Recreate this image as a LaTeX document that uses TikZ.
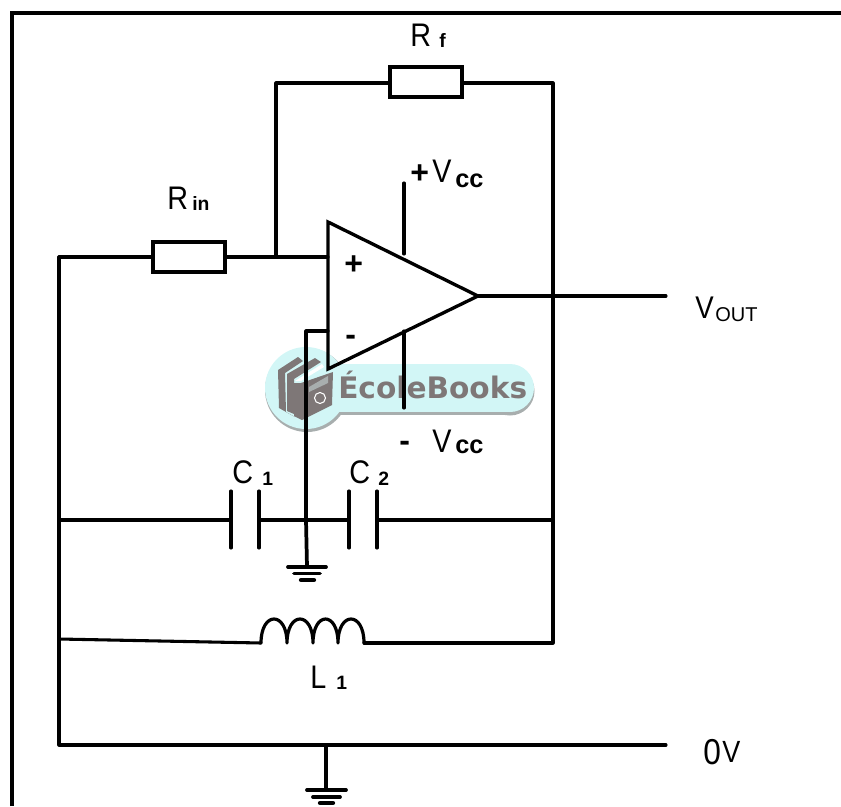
\documentclass[tikz,border=0pt]{standalone}
\usepackage{fontspec}
\setmainfont{Liberation Sans}
\newfontfamily\narrowfont[FakeStretch=0.88]{Liberation Sans}
\newfontfamily\logofont{DejaVu Sans}
\tikzset{
  wire/.style={line width=2.3pt,line cap=round,line join=round,black},
  frameline/.style={line width=3.6pt,black},
  plate/.style={line width=2.3pt,line cap=round,black},
  resistor/.style={draw,line width=3pt,rectangle,fill=white,inner sep=0pt,minimum width=54pt,minimum height=22pt},
  lab/.style={inner sep=0pt,anchor=base west,font=\narrowfont\fontsize{24.5}{26}\selectfont},
  sublab/.style={inner sep=0pt,anchor=base west,font=\fontsize{14.5}{18}\selectfont\bfseries},
  cclab/.style={inner sep=0pt,anchor=base west,font=\fontsize{19}{20}\selectfont\bfseries},
  sign/.style={inner sep=0pt,anchor=base west,font=\fontsize{24}{26}\selectfont\bfseries},
}
\definecolor{logobg}{HTML}{D2F6F6}
\definecolor{logogrey}{HTML}{7E7777}
\definecolor{logoshadow}{HTML}{A8AEAE}
\begin{document}
\begin{tikzpicture}[x=0.75pt,y=-0.75pt]
\useasboundingbox (0,0) rectangle (841,806);
% frame
\coordinate (fa) at (12,806);
\coordinate (fb) at (12,13);
\coordinate (fc) at (841,13);
\draw[frameline] (fa) -- (fb) -- (fc);
% watermark
\fill[logoshadow] (308,367) rectangle (510,415);
\fill[logoshadow] (510,391) circle (24.5);
\fill[logoshadow] (307,390) circle (42);
\fill[logobg] (306,364) rectangle (510,412);
\fill[logobg] (510,388) circle (24);
\fill[logobg] (306,388) circle (41);
% back book
\fill[logogrey] (278,370) -- (298,357) -- (303,361) -- (285,373) -- (286,412) -- (295,417) -- (279,408) -- cycle;
% middle pages
\fill[logogrey] (287,374) -- (315,358) -- (321,362) -- (294,379) -- (294,414) -- (287,411) -- cycle;
% front book
\fill[white] (295,381) -- (322,364) -- (324,367) -- (301,381) -- cycle;
\fill[logogrey] (294,383) -- (301,383) -- (333,372) -- (332,405) -- (302,420) -- (294,416) -- cycle;
\fill[logoshadow] (309,387) -- (328,376) -- (328,383) -- (309,392) -- cycle;
\draw[white,line width=0.8pt] (320,398) circle (5.5);
\node[inner sep=0pt,anchor=base west,text=logogrey,font=\logofont\fontsize{22.2}{24}\selectfont\bfseries] (logo) at (338,398) {ÉcoleBooks};
% coordinates
\coordinate (tl) at (276,83);
\coordinate (tr) at (553,83);
\coordinate (inl) at (59,257);
\coordinate (inj) at (276,257);
\coordinate (plusin) at (328,257);
\coordinate (minusin) at (328,331);
\coordinate (minuscorner) at (306,331);
\coordinate (cj) at (306,520);
\coordinate (cl) at (59,520);
\coordinate (cr) at (553,520);
\coordinate (lr) at (553,643);
\coordinate (ll) at (59,639);
\coordinate (zl) at (59,745);
\coordinate (zr) at (666,745);
\coordinate (out) at (666,296);
\coordinate (apex) at (478,296);
\coordinate (gnda) at (307,567);
\coordinate (gndb) at (326,790);
\coordinate (gndbtop) at (326,745);
\coordinate (vcctop) at (404,183);
\coordinate (vcctopb) at (404,254);
\coordinate (vccbota) at (404,331);
\coordinate (vccbot) at (404,408);
\coordinate (indl) at (261,643);
\coordinate (indr) at (364,643);
% wires
\draw[wire] (inj) -- (tl) -- (tr) -- (lr) -- (indr);
\draw[wire] (inl) -- (plusin);
\draw[wire] (inl) -- (zl) -- (zr);
\draw[wire] (apex) -- (out);
\draw[wire] (vcctop) -- (vcctopb);
\draw[wire] (vccbota) -- (vccbot);
\draw[wire] (minusin) -- (minuscorner) -- (cj);
\draw[wire] (ll) -- (indl);
\draw[wire] (gndbtop) -- (gndb);
% resistors
\node[resistor] (rf) at (426,82) {};
\node[resistor] (rin) at (189,257) {};
% op-amp
\coordinate (oa) at (328,222);
\coordinate (ob) at (328,369);
\draw[line width=2.5pt,line join=miter] (oa) -- (ob) -- (apex) -- cycle;
% capacitors
\coordinate (c1a) at (231,520);
\coordinate (c1b) at (259,520);
\coordinate (c2a) at (349,520);
\coordinate (c2b) at (377,520);
\draw[wire] (cl) -- (c1a);
\draw[wire] (c1b) -- (c2a);
\draw[wire] (c2b) -- (cr);
\foreach \p in {c1a,c1b,c2a,c2b} \draw[plate] ([yshift=21.75pt]\p) -- ([yshift=-21pt]\p);
% local ground
\draw[line width=2.8pt] (cj) -- (gnda);
\draw[line width=2.8pt,line cap=round] (288,567) -- (326,567);
\draw[line width=2.8pt,line cap=round] (294,573.5) -- (320,573.5);
\draw[line width=3.2pt,line cap=round] (301,580) -- (314,580);
% main ground
\draw[line width=2.8pt,line cap=round] (307,790) -- (346,790);
\draw[line width=2.8pt,line cap=round] (313,797) -- (340,797);
\draw[line width=3.2pt,line cap=round] (320,803) -- (333,803);
% inductor
\draw[wire,line width=2.4pt] (indl)
  .. controls (261,611) and (287,611) .. (287,643)
  .. controls (287,611) and (313,611) .. (313,643)
  .. controls (313,611) and (338,611) .. (338,643)
  .. controls (338,611) and (364,611) .. (364,643);
% labels
\node[lab] (t1) at (410,47) {R};
\node[sublab] (t2) at (439,48) {f};
\node[lab] (t3) at (167,209) {R};
\node[sublab] (t4) at (192,210) {in};
\node[sign] (t5) at (410,183) {+};
\node[lab] (t6) at (432,182) {V};
\node[cclab] (t7) at (455,187) {cc};
\node[sign] (t8) at (344,274) {+};
\node[sign] (t9) at (345,345) {-};
\node[sign] (t10) at (399,451) {-};
\node[lab] (t11) at (432,452) {V};
\node[cclab] (t12) at (455,453) {cc};
\node[lab,font=\narrowfont\fontsize{23.5}{26}\selectfont] (t13) at (695,318) {V};
\node[lab,font=\fontsize{15}{16}\selectfont] (t14) at (715,321) {OUT};
\node[lab] (t15) at (232,483) {C};
\node[sublab] (t16) at (262,485) {1};
\node[lab] (t17) at (349,483) {C};
\node[sublab] (t18) at (378,485) {2};
\node[lab] (t19) at (310,688) {L};
\node[sublab] (t20) at (336,689) {1};
\node[lab,font=\narrowfont\fontsize{27}{28}\selectfont] (t21) at (703,764) {0};
\node[lab,font=\narrowfont\fontsize{23}{24}\selectfont] (t22) at (722,762) {V};
\end{tikzpicture}
\end{document}
